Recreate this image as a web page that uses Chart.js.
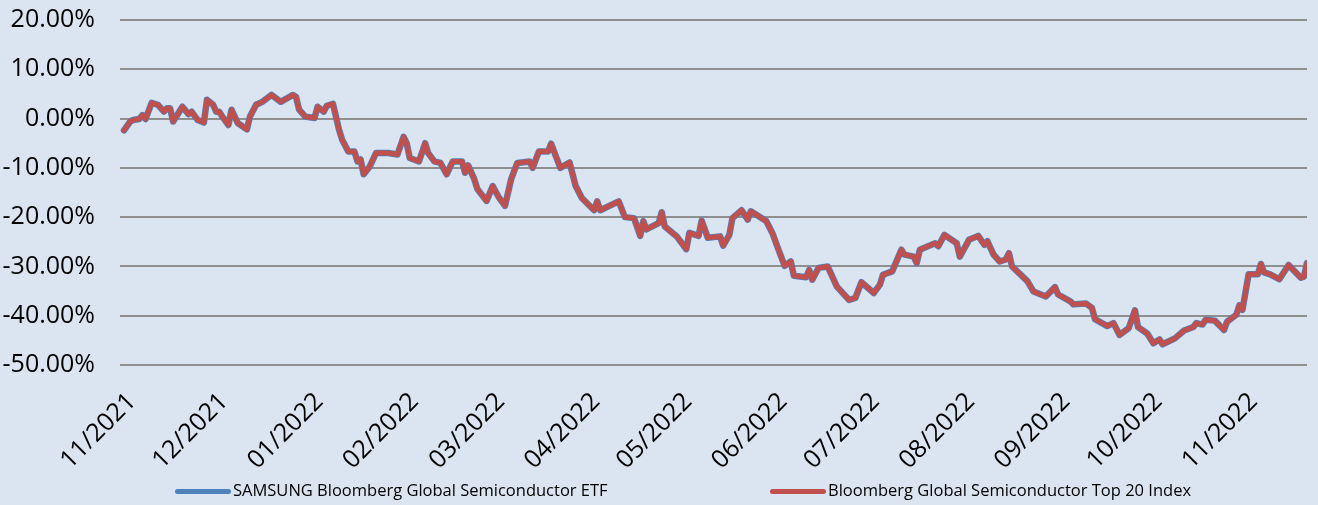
<!DOCTYPE html>
<html>
<head>
<meta charset="utf-8">
<script src="https://cdn.jsdelivr.net/npm/chart.js@4.4.0/dist/chart.umd.min.js"></script>
<style>
    html, body { margin: 0; padding: 0; background: #dbe5f1; }
    #wrap { position: relative; width: 1318px; height: 505px; background: #dbe5f1; }
    #legend { position: absolute; left: 0; top: 478px; width: 1318px; height: 24px; font-family: "Open Sans", sans-serif; font-size: 16.5px; color: #000; }
    .item { position: absolute; top: 0; white-space: nowrap; line-height: 24px; }
    .item span.swatch { display: inline-block; width: 56px; height: 5px; border-radius: 3px; vertical-align: middle; margin-right: 2px; }
</style>
</head>
<body>
<div id="wrap">
    <canvas id="perfChart"></canvas>
    <div id="legend"></div>
</div>
<script>
// days since 2021-11-01
var days = [0, 2, 3, 5, 6, 7, 9, 11, 13, 14, 15, 16, 19, 21, 22, 24, 26, 27, 29, 30, 31, 32, 34, 35, 37, 40, 41, 43, 45, 48, 51, 55, 56, 57, 59, 62, 63, 65, 66, 68,
    70, 71, 73, 75, 76, 77, 78, 80, 82, 86, 89, 91, 92, 93, 96, 98, 99, 101, 103, 105, 107, 110, 111, 112, 114, 115, 118, 120, 122, 124, 126, 128, 132, 133, 135, 138, 139, 142, 145,
    147, 149, 153, 154, 155, 161, 163, 166, 168, 169, 170, 174, 175, 176, 180, 183, 184, 187, 188, 190, 194, 195, 197, 198, 201, 203, 204, 209, 211, 213, 215, 217, 218, 222, 223,
    224, 226, 229, 232, 236, 238, 240, 244, 246, 247, 250, 253, 254, 257, 258, 259, 262, 264, 265, 267, 271, 272, 275, 278, 280, 281, 283, 285, 287, 288, 289, 294, 296, 300, 303, 304,
    308, 309, 313, 315, 316, 320, 322, 324, 327, 329, 330, 333, 335, 337, 338, 342, 345, 348, 349, 351, 352, 355, 358, 359, 362, 363, 364, 366, 369, 370, 371, 373, 376, 379, 383, 384, 385];

var indexValues = [-2.4, -0.6, -0.3, -0.1, 0.7, -0.1, 3.2, 2.8, 1.4, 2.1, 2.1, -0.6, 2.4, 0.9, 1.4, -0.3, -0.8, 3.8, 2.8, 1.4, 1.4, 0.4, -1.3, 1.8, -0.9, -2.2, 0.4, 2.8, 3.4, 4.8, 3.4, 4.8, 4.4, 1.8, 0.4, 0.1, 2.4, 1.4, 2.6, 3.0,
    -2.3, -4.3, -6.7, -6.7, -8.7, -8.3, -11.3, -9.7, -7.0, -7.0, -7.3, -3.7, -5.0, -8.0, -8.7, -5.0, -7.0, -8.7, -9.0, -11.3, -8.7, -8.7, -11.0, -9.5, -12.3, -14.3, -16.7, -13.7, -16.0, -17.7, -12.3, -9.0, -8.7, -10.0, -6.7, -6.7, -5.1, -10.0, -8.9,
    -13.7, -16.1, -18.6, -16.8, -18.6, -16.8, -20.0, -20.2, -23.8, -20.8, -22.5, -21.2, -19.0, -21.9, -24.0, -26.5, -23.2, -23.8, -20.7, -24.2, -23.9, -25.8, -23.6, -20.2, -18.6, -20.5, -18.8, -20.8, -23.2, -26.6, -29.9, -29.0, -31.9, -32.2, -30.7,
    -32.7, -30.3, -30.0, -34.1, -36.8, -36.4, -33.2, -35.4, -33.7, -31.7, -31.0, -26.6, -27.6, -28.0, -29.3, -26.6, -25.8, -25.3, -25.9, -23.6, -25.3, -28.0, -24.6, -23.8, -25.6, -24.9, -27.6, -29.0, -28.6, -27.3, -30.0, -33.0, -35.1, -36.1, -34.2, -35.7,
    -37.1, -37.7, -37.5, -38.4, -40.7, -42.1, -41.5, -43.9, -42.5, -38.9, -42.3, -43.6, -45.6, -44.8, -45.8, -44.6, -43.0, -42.3, -41.5, -41.8, -40.8, -41.0, -42.9, -41.2, -39.8, -37.9, -38.8, -31.6, -31.6, -29.5, -31.2, -31.6, -32.6, -29.7, -32.3, -32.1, -29.3];

// ETF tracks the index almost exactly (hidden under the red line)
var etfValues = [-2.4, -0.6, -0.3, -0.1, 0.7, -0.1, 3.2, 2.8, 1.4, 2.1, 2.1, -0.6, 2.4, 0.9, 1.4, -0.3, -0.8, 3.8, 2.8, 1.4, 1.4, 0.4, -1.3, 1.8, -0.9, -2.2, 0.4, 2.8, 3.4, 4.8, 3.4, 4.8, 4.4, 1.8, 0.4, 0.1, 2.4, 1.4, 2.6, 3.0,
    -2.3, -4.3, -6.7, -6.7, -8.7, -8.3, -11.3, -9.7, -7.0, -7.0, -7.3, -3.7, -5.0, -8.0, -8.7, -5.0, -7.0, -8.7, -9.0, -11.3, -8.7, -8.7, -11.0, -9.5, -12.3, -14.3, -16.7, -13.7, -16.0, -17.7, -12.3, -9.0, -8.7, -10.0, -6.7, -6.7, -5.1, -10.0, -8.9,
    -13.7, -16.1, -18.6, -16.8, -18.6, -16.8, -20.0, -20.2, -23.8, -20.8, -22.5, -21.2, -19.0, -21.9, -24.0, -26.5, -23.2, -23.8, -20.7, -24.2, -23.9, -25.8, -23.6, -20.2, -18.6, -20.5, -18.8, -20.8, -23.2, -26.6, -29.9, -29.0, -31.9, -32.2, -30.7,
    -32.7, -30.3, -30.0, -34.1, -36.8, -36.4, -33.2, -35.4, -33.7, -31.7, -31.0, -26.6, -27.6, -28.0, -29.3, -26.6, -25.8, -25.3, -25.9, -23.6, -25.3, -28.0, -24.6, -23.8, -25.6, -24.9, -27.6, -29.0, -28.6, -27.3, -30.0, -33.0, -35.1, -36.1, -34.2, -35.7,
    -37.1, -37.7, -37.5, -38.4, -40.7, -42.1, -41.5, -43.9, -42.5, -38.9, -42.3, -43.6, -45.6, -44.8, -45.8, -44.6, -43.0, -42.3, -41.5, -41.8, -40.8, -41.0, -42.9, -41.2, -39.8, -37.9, -38.8, -31.6, -31.6, -29.5, -31.2, -31.6, -32.6, -29.7, -32.3, -32.1, -29.3];

// month starts (days since 2021-11-01) and their labels
var monthDays = [0, 30, 61, 92, 120, 151, 181, 212, 242, 273, 304, 334, 365];
var monthLabels = ['11/2021', '12/2021', '01/2022', '02/2022', '03/2022', '04/2022', '05/2022', '06/2022', '07/2022', '08/2022', '09/2022', '10/2022', '11/2022'];

var seriesNames = ['SAMSUNG Bloomberg Global Semiconductor ETF', 'Bloomberg Global Semiconductor Top 20 Index'];
var seriesColors = ['#4f81bd', '#c0504d'];

function toPoints(vals) {
    return days.map((d, i) => ({ x: d, y: vals[i] }));
}

var tickFont = { family: "'Open Sans', sans-serif", size: 25 };

var ctx = document.getElementById('perfChart').getContext('2d');
var myChart = new Chart(ctx, {
    type: 'line',
    data: {
        datasets: [{
            label: seriesNames[0],
            data: toPoints(etfValues),
            borderColor: seriesColors[0],
            borderWidth: 6.5,
            pointRadius: 0,
            borderJoinStyle: 'round',
            borderCapStyle: 'round',
            fill: false,
            order: 1
        }, {
            label: seriesNames[1],
            data: toPoints(indexValues),
            borderColor: seriesColors[1],
            borderWidth: 5,
            pointRadius: 0,
            borderJoinStyle: 'round',
            borderCapStyle: 'round',
            fill: false,
            order: 0
        }]
    },
    options: {
        responsive: true,
        maintainAspectRatio: false,
        animation: false,
        layout: { padding: { top: 20, right: 11, bottom: 0, left: 0 } },
        plugins: {
            legend: { display: false },
            tooltip: { enabled: false }
        },
        scales: {
            x: {
                type: 'linear',
                min: -1.3,
                max: 385,
                afterBuildTicks: function(scale) {
                    scale.ticks = monthDays.map(d => ({ value: d }));
                },
                afterFit: function(scale) { scale.height = 140; },
                grid: { display: false, drawTicks: false },
                border: { display: false },
                ticks: {
                    minRotation: 45,
                    maxRotation: 45,
                    padding: 22,
                    labelOffset: 8,
                    color: '#000',
                    font: tickFont,
                    callback: function(value) {
                        var i = monthDays.indexOf(value);
                        return i >= 0 ? monthLabels[i] : '';
                    }
                }
            },
            y: {
                min: -50,
                max: 20,
                afterFit: function(scale) {
                    scale.width = 120;
                    scale.paddingTop = 0;
                    scale.paddingBottom = 0;
                },
                grid: { color: '#8f8f8f', lineWidth: 2, drawTicks: false },
                border: { display: false },
                ticks: {
                    stepSize: 10,
                    padding: 25,
                    color: '#000',
                    font: tickFont,
                    callback: function(value) { return value.toFixed(2) + '%'; }
                }
            }
        }
    }
});

// legend built from the datasets
var legendPos = [175, 770];
var legendEl = document.getElementById('legend');
myChart.data.datasets.forEach(function(ds, i) {
    var item = document.createElement('div');
    item.className = 'item';
    item.style.left = legendPos[i] + 'px';
    var sw = document.createElement('span');
    sw.className = 'swatch';
    sw.style.background = ds.borderColor;
    item.appendChild(sw);
    item.appendChild(document.createTextNode(ds.label));
    legendEl.appendChild(item);
});
</script>
</body>
</html>
